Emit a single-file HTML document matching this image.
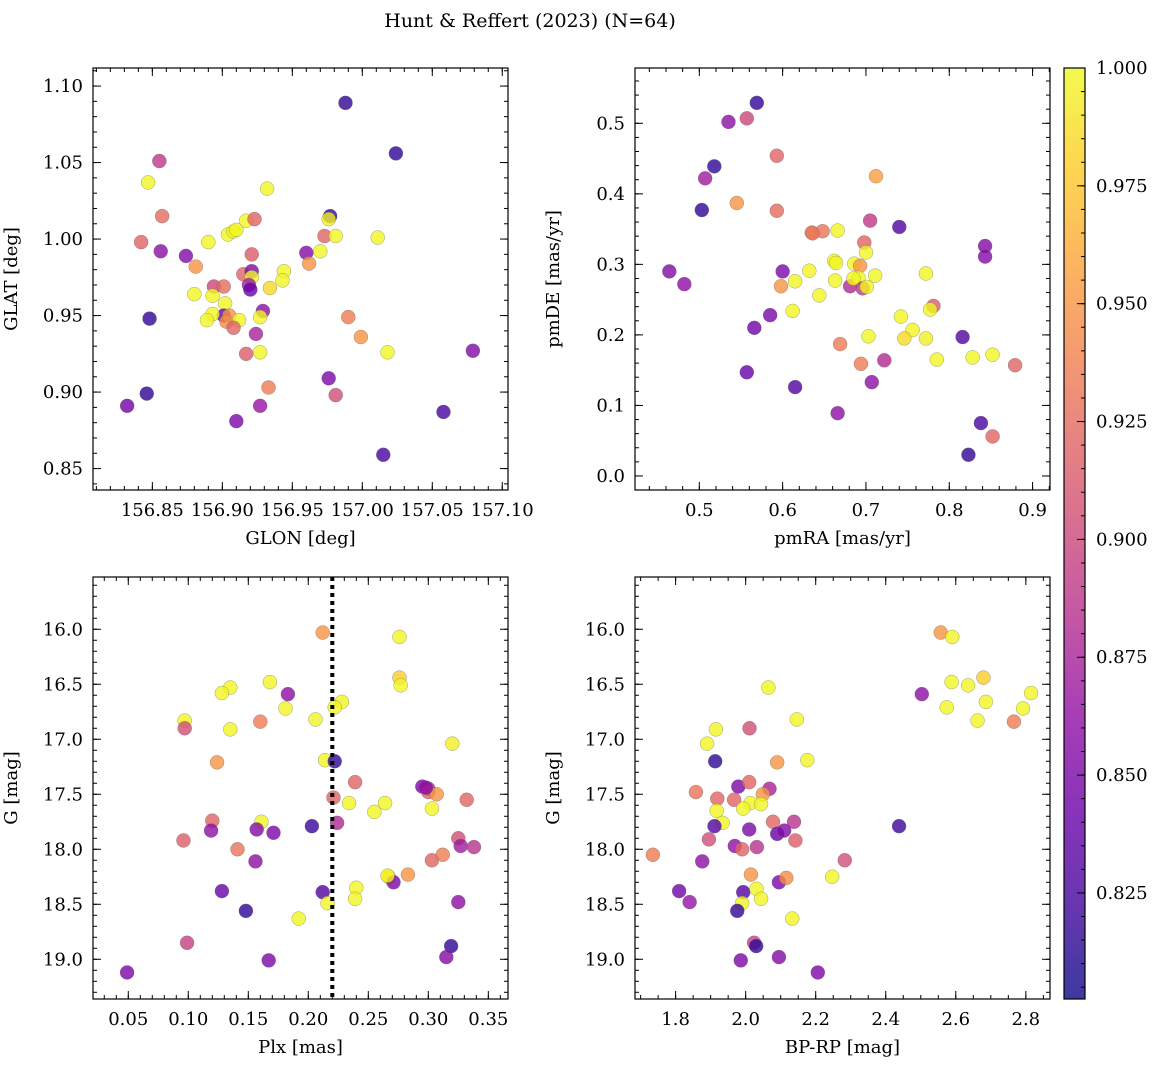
<!DOCTYPE html>
<html><head><meta charset="utf-8"><style>
html,body{margin:0;padding:0;background:#fff;}
svg{display:block;font-family:"DejaVu Serif","Liberation Serif",serif;}
</style></head><body>
<svg id="fig" width="1161" height="1067" viewBox="0 0 1161 1067" xmlns="http://www.w3.org/2000/svg">
<defs>
<linearGradient id="plasma" x1="0" y1="1" x2="0" y2="0">
<stop offset="0" stop-color="#0d0887"/><stop offset="0.1" stop-color="#41049d"/><stop offset="0.2" stop-color="#6a00a8"/><stop offset="0.3" stop-color="#8f0da4"/><stop offset="0.4" stop-color="#b12a90"/><stop offset="0.5" stop-color="#cc4778"/><stop offset="0.6" stop-color="#e16462"/><stop offset="0.7" stop-color="#f2844b"/><stop offset="0.8" stop-color="#fca636"/><stop offset="0.9" stop-color="#fcce25"/><stop offset="1" stop-color="#f0f921"/>
</linearGradient>
</defs>
<text x="530" y="27" text-anchor="middle" font-size="19">Hunt &amp; Reffert (2023) (N=64)</text>
</svg>
<script>
// ---- data ----
const glon=[156.988,157.024,156.855,156.847,156.932,156.857,156.842,156.856,156.874,156.881,156.890,156.904,156.908,156.910,156.917,156.923,156.921,156.915,156.921,156.921,156.919,156.920,156.934,156.944,156.943,156.894,156.901,156.880,156.893,156.902,156.901,156.905,156.893,156.889,156.903,156.912,156.908,156.929,156.927,156.924,156.917,156.927,156.848,156.990,156.999,157.018,157.079,156.976,156.981,156.933,156.846,156.832,156.927,156.910,157.058,157.015,156.977,156.976,156.973,156.981,157.011,156.960,156.970,156.962];
const glat=[1.089,1.056,1.051,1.037,1.033,1.015,0.998,0.992,0.989,0.982,0.998,1.003,1.005,1.006,1.012,1.013,0.990,0.977,0.979,0.975,0.970,0.967,0.968,0.979,0.973,0.969,0.969,0.964,0.963,0.958,0.950,0.950,0.951,0.947,0.946,0.947,0.942,0.953,0.949,0.938,0.925,0.926,0.948,0.949,0.936,0.926,0.927,0.909,0.898,0.903,0.899,0.891,0.891,0.881,0.887,0.859,1.015,1.013,1.002,1.002,1.001,0.991,0.992,0.984];
const cPos=[0.815,0.815,0.89,0.998,0.998,0.925,0.92,0.86,0.855,0.95,0.998,0.998,0.998,0.998,0.998,0.92,0.915,0.92,0.855,0.998,0.87,0.84,0.985,0.998,0.998,0.90,0.925,0.998,0.998,0.998,0.84,0.95,0.998,0.998,0.945,0.998,0.92,0.86,0.998,0.875,0.915,0.998,0.815,0.935,0.95,0.998,0.855,0.85,0.905,0.935,0.815,0.845,0.865,0.85,0.825,0.825,0.815,0.995,0.92,0.998,0.998,0.855,0.998,0.95];

const pmra=[0.569,0.535,0.557,0.593,0.518,0.507,0.712,0.545,0.503,0.593,0.705,0.740,0.635,0.648,0.666,0.698,0.700,0.843,0.843,0.662,0.664,0.686,0.693,0.632,0.600,0.464,0.482,0.615,0.598,0.663,0.681,0.691,0.685,0.696,0.701,0.711,0.772,0.644,0.585,0.566,0.612,0.781,0.777,0.742,0.756,0.746,0.772,0.703,0.816,0.669,0.785,0.828,0.852,0.722,0.694,0.879,0.557,0.615,0.707,0.666,0.838,0.852,0.823,0.636];
const pmde=[0.529,0.502,0.507,0.454,0.439,0.422,0.425,0.387,0.377,0.376,0.362,0.353,0.345,0.347,0.348,0.331,0.317,0.326,0.311,0.305,0.302,0.301,0.298,0.291,0.290,0.290,0.272,0.276,0.269,0.277,0.269,0.281,0.280,0.266,0.268,0.284,0.287,0.256,0.228,0.210,0.234,0.241,0.236,0.226,0.207,0.195,0.195,0.198,0.197,0.187,0.165,0.168,0.172,0.164,0.159,0.157,0.147,0.126,0.133,0.089,0.075,0.056,0.030,0.344];
const cPm=[0.815,0.86,0.90,0.92,0.815,0.87,0.955,0.95,0.815,0.925,0.89,0.83,0.94,0.93,0.998,0.92,0.998,0.855,0.855,0.998,0.998,0.998,0.95,0.998,0.85,0.855,0.86,0.998,0.95,0.998,0.88,0.998,0.998,0.89,0.998,0.998,0.998,0.998,0.85,0.845,0.998,0.915,0.998,0.998,0.998,0.985,0.995,0.998,0.83,0.935,0.998,0.998,0.998,0.88,0.935,0.92,0.84,0.83,0.86,0.86,0.825,0.92,0.815,0.93];

const plx=[0.212,0.276,0.276,0.277,0.168,0.135,0.128,0.183,0.228,0.181,0.222,0.206,0.097,0.097,0.135,0.160,0.320,0.124,0.214,0.222,0.239,0.295,0.300,0.300,0.307,0.221,0.234,0.264,0.332,0.255,0.303,0.120,0.161,0.119,0.157,0.171,0.203,0.224,0.096,0.141,0.156,0.325,0.327,0.338,0.303,0.312,0.267,0.271,0.283,0.128,0.212,0.216,0.240,0.239,0.148,0.192,0.325,0.099,0.319,0.315,0.167,0.049,0.266,0.298];
const gPlx=[16.03,16.07,16.44,16.51,16.48,16.53,16.58,16.59,16.66,16.72,16.71,16.82,16.83,16.90,16.91,16.84,17.04,17.21,17.19,17.20,17.39,17.43,17.45,17.48,17.50,17.53,17.58,17.58,17.55,17.66,17.63,17.74,17.75,17.83,17.82,17.85,17.79,17.76,17.92,18.00,18.11,17.90,17.97,17.98,18.10,18.05,18.25,18.30,18.23,18.38,18.39,18.49,18.35,18.45,18.56,18.63,18.48,18.85,18.88,18.98,19.01,19.12,18.24,17.44];
const cPlx=[0.95,0.998,0.98,0.998,0.998,0.998,0.998,0.86,0.998,0.998,0.998,0.998,0.998,0.905,0.998,0.935,0.995,0.95,0.998,0.815,0.92,0.85,0.88,0.92,0.95,0.92,0.998,0.998,0.92,0.998,0.998,0.92,0.998,0.86,0.855,0.85,0.82,0.88,0.915,0.93,0.86,0.905,0.87,0.885,0.92,0.935,0.98,0.85,0.95,0.84,0.83,0.998,0.998,0.998,0.815,0.998,0.86,0.895,0.815,0.855,0.85,0.85,0.998,0.86];

const bprp=[2.557,2.590,2.679,2.588,2.635,2.503,2.815,2.686,2.574,2.792,2.662,2.766,2.065,2.146,1.915,1.890,2.011,1.913,2.090,2.176,1.858,1.919,1.979,2.010,2.068,2.049,1.967,2.014,2.044,1.993,1.917,1.934,1.911,2.078,2.138,2.010,2.090,2.110,2.142,1.895,1.969,1.990,2.032,1.735,1.876,2.283,2.015,2.247,2.095,2.116,2.438,1.810,1.840,1.993,2.031,2.044,1.990,1.976,2.133,2.024,2.030,1.986,2.095,2.206];
const gCmd=[16.03,16.07,16.44,16.48,16.51,16.59,16.58,16.66,16.71,16.72,16.83,16.84,16.53,16.82,16.91,17.04,16.90,17.20,17.21,17.19,17.48,17.54,17.43,17.39,17.45,17.50,17.55,17.58,17.59,17.63,17.65,17.76,17.79,17.75,17.75,17.82,17.86,17.83,17.92,17.91,17.97,18.00,17.98,18.05,18.11,18.10,18.23,18.25,18.30,18.26,17.79,18.38,18.48,18.39,18.36,18.45,18.49,18.56,18.63,18.85,18.88,19.01,18.98,19.12];
const cCmd=[0.95,0.998,0.98,0.998,0.998,0.86,0.998,0.998,0.998,0.998,0.998,0.935,0.998,0.998,0.998,0.998,0.905,0.815,0.95,0.998,0.93,0.92,0.85,0.92,0.875,0.95,0.92,0.998,0.998,0.998,0.998,0.998,0.83,0.92,0.885,0.85,0.84,0.855,0.915,0.905,0.86,0.92,0.885,0.935,0.86,0.905,0.95,0.998,0.85,0.945,0.82,0.845,0.865,0.83,0.998,0.998,0.998,0.815,0.998,0.895,0.815,0.85,0.855,0.85];

const plxCut=0.22;
const cbTicks=[0.825,0.850,0.875,0.900,0.925,0.950,0.975,1.000];

// ---- helpers ----
const NS="http://www.w3.org/2000/svg";
const fig=document.getElementById('fig');
function mk(tag,attrs,parent){const e=document.createElementNS(NS,tag);for(const k in attrs)e.setAttribute(k,attrs[k]);(parent||fig).appendChild(e);return e;}
const stops=[[0,[13,8,135]],[0.1,[65,4,157]],[0.2,[106,0,168]],[0.3,[143,13,164]],[0.4,[177,42,144]],[0.5,[204,71,120]],[0.6,[225,100,98]],[0.7,[242,132,75]],[0.8,[252,166,54]],[0.9,[252,206,37]],[1,[240,249,33]]];
const vmin=0.8025,vmax=1.0;
function plasma(v){let t=(v-vmin)/(vmax-vmin);t=Math.max(0,Math.min(1,t));for(let i=1;i<stops.length;i++){if(t<=stops[i][0]){const a=stops[i-1],b=stops[i],f=(t-a[0])/(b[0]-a[0]);const c=a[1].map((x,j)=>Math.round(x+(b[1][j]-x)*f));return `rgb(${c[0]},${c[1]},${c[2]})`;}}return 'rgb(240,249,33)';}

const FS=18;
function panel(cfg){
  const {L,T,R,B,xmin,xmax,ymin,ymax,invY,xMaj,xMin,yMaj,yMin,xFmt,yFmt,xlabel,ylabel,name}=cfg;
  const g=mk('g',{});
  
  
  const sx=v=>L+(v-xmin)/(xmax-xmin)*(R-L);
  const sy=invY?(v=>T+(v-ymin)/(ymax-ymin)*(B-T)):(v=>B-(v-ymin)/(ymax-ymin)*(B-T));
  const ticks=mk('g',{stroke:'#000','stroke-width':1},g);
  
  
  const rng=(a,b,s)=>{const o=[];const n0=Math.ceil(a/s-1e-6),n1=Math.floor(b/s+1e-6);for(let n=n0;n<=n1;n++)o.push(+(n*s).toFixed(6));return o;};
  rng(xmin,xmax,xMin).forEach(v=>{const x=sx(v);mk('line',{x1:x,x2:x,y1:B,y2:B-4},ticks);mk('line',{x1:x,x2:x,y1:T,y2:T+4},ticks);});
  rng(ymin,ymax,yMin).forEach(v=>{const y=sy(v);mk('line',{x1:L,x2:L+4,y1:y,y2:y},ticks);mk('line',{x1:R,x2:R-4,y1:y,y2:y},ticks);});
  rng(xmin,xmax,xMaj).forEach(v=>{const x=sx(v);mk('line',{x1:x,x2:x,y1:B,y2:B-8},ticks);mk('line',{x1:x,x2:x,y1:T,y2:T+8},ticks);
    const t=mk('text',{x:x,y:B+26,'text-anchor':'middle','font-size':FS},g);t.textContent=xFmt(v);
    
    });
  rng(ymin,ymax,yMaj).forEach(v=>{const y=sy(v);mk('line',{x1:L,x2:L+8,y1:y,y2:y},ticks);mk('line',{x1:R,x2:R-8,y1:y,y2:y},ticks);
    const t=mk('text',{x:L-10,y:y+6,'text-anchor':'end','font-size':FS},g);t.textContent=yFmt(v);
    
    });
  const xl=mk('text',{x:(L+R)/2,y:B+54,'text-anchor':'middle','font-size':FS},g);xl.textContent=xlabel;
  
  
  const yx=L-76,yy=(T+B)/2;
  const yl=mk('text',{x:yx,y:yy,'text-anchor':'middle','font-size':FS,transform:`rotate(-90 ${yx} ${yy})`},g);yl.textContent=ylabel;
  
  
  return {g,sx,sy,L,T,R,B};
}
function scatter(p,xs,ys,cs,nm){
  const cl=mk('clipPath',{id:'clip-'+nm},p.g);mk('rect',{x:p.L,y:p.T,width:p.R-p.L,height:p.B-p.T},cl);
  const sg=mk('g',{'clip-path':`url(#clip-${nm})`},p.g);
  
  
  for(let i=0;i<xs.length;i++){
    const c=mk('circle',{cx:p.sx(xs[i]),cy:p.sy(ys[i]),r:7,fill:plasma(cs[i]),'fill-opacity':0.8,stroke:'#666','stroke-opacity':0.6,'stroke-width':0.5},sg);
    
    
  }
  return sg;
}
function frame(p){const r=mk('rect',{x:p.L,y:p.T,width:p.R-p.L,height:p.B-p.T,fill:'none',stroke:'#000','stroke-width':1.2},p.g);
  
  }

const f2=v=>v.toFixed(2), f1=v=>v.toFixed(1);
const p1=panel({name:'position-panel',L:93,T:68,R:508,B:490,xmin:156.8076,xmax:157.1041,ymin:0.836,ymax:1.1118,xMaj:0.05,xMin:0.01,yMaj:0.05,yMin:0.01,xFmt:f2,yFmt:f2,xlabel:'GLON [deg]',ylabel:'GLAT [deg]'});
scatter(p1,glon,glat,cPos,'position');frame(p1);
const p2=panel({name:'proper-motion-panel',L:635,T:68,R:1050,B:490,xmin:0.4228,xmax:0.9209,ymin:-0.0199,ymax:0.5784,xMaj:0.1,xMin:0.02,yMaj:0.1,yMin:0.02,xFmt:f1,yFmt:f1,xlabel:'pmRA [mas/yr]',ylabel:'pmDE [mas/yr]'});
scatter(p2,pmra,pmde,cPm,'proper-motion');frame(p2);
const p3=panel({name:'parallax-panel',L:93,T:577,R:508,B:999,xmin:0.0206,xmax:0.3664,ymin:15.525,ymax:19.361,invY:true,xMaj:0.05,xMin:0.01,yMaj:0.5,yMin:0.1,xFmt:f2,yFmt:f1,xlabel:'Plx [mas]',ylabel:'G [mag]'});
scatter(p3,plx,gPlx,cPlx,'parallax');
const cut=mk('line',{x1:p3.sx(plxCut),x2:p3.sx(plxCut),y1:p3.T,y2:p3.B,stroke:'#000','stroke-width':4,'stroke-dasharray':'4 4'},p3.g);


frame(p3);
const p4=panel({name:'cmd-panel',L:635,T:577,R:1050,B:999,xmin:1.684,xmax:2.869,ymin:15.525,ymax:19.361,invY:true,xMaj:0.2,xMin:0.05,yMaj:0.5,yMin:0.1,xFmt:f1,yFmt:f1,xlabel:'BP-RP [mag]',ylabel:'G [mag]'});
scatter(p4,bprp,gCmd,cCmd,'cmd');frame(p4);

// colorbar
const cb=mk('g',{});


const cbT=68,cbB=999,cbL=1064,cbR=1085;
const cy=v=>cbB-(v-vmin)/(vmax-vmin)*(cbB-cbT);
mk('rect',{x:cbL,y:cbT,width:cbR-cbL,height:cbB-cbT,fill:'url(#plasma)','fill-opacity':0.8},cb);
for(let v=0.805;v<=1.0001;v+=0.005){const y=cy(v);mk('line',{x1:cbR,x2:cbR-4,y1:y,y2:y,stroke:'#000'},cb);}
cbTicks.forEach(v=>{const y=cy(v);mk('line',{x1:cbR,x2:cbR-8,y1:y,y2:y,stroke:'#000'},cb);
  const t=mk('text',{x:1096,y:y+6,'font-size':FS},cb);t.textContent=v.toFixed(3);
  
  });
mk('rect',{x:cbL,y:cbT,width:cbR-cbL,height:cbB-cbT,fill:'none',stroke:'#000','stroke-width':1.2},cb);
</script>
</body></html>
